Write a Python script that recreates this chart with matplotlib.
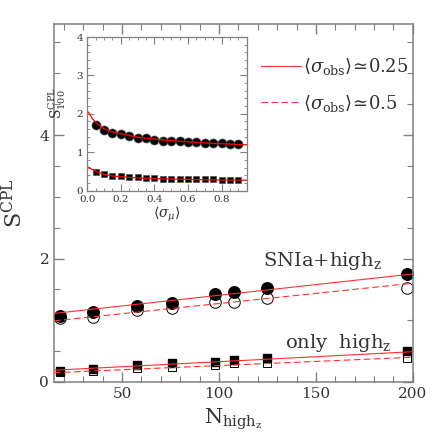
import numpy as np
import matplotlib
matplotlib.use('Agg')
import matplotlib.pyplot as plt
from matplotlib.ticker import MultipleLocator

plt.rcParams['font.family'] = 'DejaVu Serif'
plt.rcParams['mathtext.fontset'] = 'dejavuserif'

# main panel: S^CPL vs number of high-z objects
n_highz = [18, 35, 58, 76, 98, 108, 125, 197]
sn_filled = [1.07, 1.13, 1.23, 1.28, 1.42, 1.45, 1.52, 1.75]
sn_open = [1.03, 1.06, 1.16, 1.19, 1.29, 1.30, 1.36, 1.52]
hz_filled = [0.18, 0.21, 0.27, 0.30, 0.33, 0.36, 0.39, 0.50]
hz_open = [0.16, 0.18, 0.23, 0.24, 0.28, 0.30, 0.31, 0.39]

# straight fits (end points)
fit_x = [15, 200]
sn_fit_025 = [1.11, 1.75]
sn_fit_05 = [0.99, 1.60]
hz_fit_025 = [0.19, 0.49]
hz_fit_05 = [0.15, 0.40]

# inset: S^CPL_100 vs <sigma_mu>
sig_mu = [0.05, 0.10, 0.15, 0.20, 0.25, 0.30, 0.35, 0.40, 0.45,
          0.50, 0.55, 0.60, 0.65, 0.70, 0.75, 0.80, 0.85, 0.90]
ins_circ = [1.72, 1.58, 1.51, 1.47, 1.42, 1.38, 1.36, 1.33, 1.30,
            1.29, 1.28, 1.27, 1.26, 1.25, 1.24, 1.23, 1.22, 1.20]
ins_sq = [0.48, 0.43, 0.39, 0.37, 0.35, 0.34, 0.33, 0.32, 0.31,
          0.31, 0.31, 0.30, 0.30, 0.29, 0.29, 0.28, 0.28, 0.28]
curve_x = [0.008, 0.03, 0.05, 0.1, 0.15, 0.2, 0.3, 0.4, 0.5, 0.6, 0.7, 0.8, 0.95]
curve_top = [2.04, 1.88, 1.78, 1.61, 1.53, 1.48, 1.39, 1.34, 1.30, 1.27, 1.24, 1.22, 1.19]
curve_bot = [0.61, 0.55, 0.50, 0.42, 0.38, 0.36, 0.33, 0.31, 0.30, 0.29, 0.28, 0.275, 0.27]

frame = '#808080'
txt = '#333333'
red = '#ff3030'

fig = plt.figure(figsize=(4.36, 4.36), dpi=100)
ax = fig.add_axes([0.124, 0.124, 0.823, 0.821])

ax.plot(n_highz, sn_open, 'o', ms=8.3, mfc='white', mec='black', mew=0.7, ls='none')
ax.plot(n_highz, sn_filled, 'o', ms=8.3, mfc='black', mec='black', ls='none')
ax.plot(n_highz, hz_open, 's', ms=5.5, mfc='white', mec='black', mew=0.7, ls='none')
ax.plot(n_highz, hz_filled, 's', ms=6, mfc='black', mec='black', ls='none')

l1, = ax.plot(fit_x, sn_fit_025, '-', color=red, lw=0.8)
l2, = ax.plot(fit_x, sn_fit_05, '--', color=red, lw=0.8, dashes=(6, 3))
ax.plot(fit_x, hz_fit_025, '-', color=red, lw=0.8)
ax.plot(fit_x, hz_fit_05, '--', color=red, lw=0.8, dashes=(6, 3))

ax.set_xlim(15, 200)
ax.set_ylim(0, 5.8)
ax.xaxis.set_major_locator(MultipleLocator(50))
ax.xaxis.set_minor_locator(MultipleLocator(10))
ax.yaxis.set_major_locator(MultipleLocator(2))
ax.yaxis.set_minor_locator(MultipleLocator(0.5))
ax.tick_params(which='both', direction='in', top=True, right=True, color=frame,
               labelcolor=txt, labelsize=11)
ax.tick_params(which='major', length=7, width=1)
ax.tick_params(which='minor', length=4, width=0.8)
for s in ax.spines.values():
    s.set_color(frame)
    s.set_linewidth(1.1)

ax.set_xlabel(r'$\mathrm{N_{high_{z}}}$', fontsize=15, color=txt, labelpad=4)
ax.set_ylabel(r'$\mathrm{S}^{\mathrm{CPL}}$', fontsize=16, color=txt)
ax.yaxis.set_label_coords(-0.075, 0.5)

ax.text(184, 1.88, r'$\mathrm{SNIa{+}high_{z}}$', fontsize=14, color=txt, ha='right')
ax.text(189, 0.55, r'$\mathrm{only\ \ high_{z}}$', fontsize=14, color=txt, ha='right')

leg = ax.legend([l1, l2],
                [r'$\langle\sigma_{\rm obs}\rangle\!\simeq\!0.25$',
                 r'$\langle\sigma_{\rm obs}\rangle\!\simeq\!0.5$'],
                loc='upper right', bbox_to_anchor=(1.032, 0.955), frameon=False,
                fontsize=13, handlelength=2.2, handletextpad=0.1, labelspacing=0.85)
for t in leg.get_texts():
    t.set_color(txt)

# inset
ins = fig.add_axes([0.200, 0.563, 0.366, 0.352])
ins.plot(sig_mu, ins_circ, 'o', ms=6.5, mfc='black', mec='#555555', mew=0.5, ls='none')
ins.plot(sig_mu, ins_sq, 's', ms=4.5, mfc='black', mec='#555555', mew=0.5, ls='none')
ins.plot(curve_x, curve_top, '-', color='red', lw=0.9)
ins.plot(curve_x, curve_bot, '-', color='red', lw=0.9)
ins.set_xlim(0, 0.95)
ins.set_ylim(0, 4)
ins.xaxis.set_major_locator(MultipleLocator(0.2))
ins.xaxis.set_minor_locator(MultipleLocator(0.05))
ins.yaxis.set_major_locator(MultipleLocator(1))
ins.yaxis.set_minor_locator(MultipleLocator(0.2))
ins.tick_params(which='both', direction='in', top=True, right=True, color=frame,
                labelcolor=txt, labelsize=7.5, pad=3)
ins.tick_params(which='major', length=5, width=0.8)
ins.tick_params(which='minor', length=2.5, width=0.6)
for s in ins.spines.values():
    s.set_color(frame)
    s.set_linewidth(0.9)
ins.set_xlabel(r'$\langle\sigma_{\mu}\rangle$', fontsize=10, color=txt, labelpad=1)
ins.set_ylabel(r'$\mathrm{S}^{\mathrm{CPL}}_{100}$', fontsize=10, color=txt, labelpad=0)
ins.yaxis.set_label_coords(-0.12, 0.57)

fig.savefig('out.png', dpi=100)
